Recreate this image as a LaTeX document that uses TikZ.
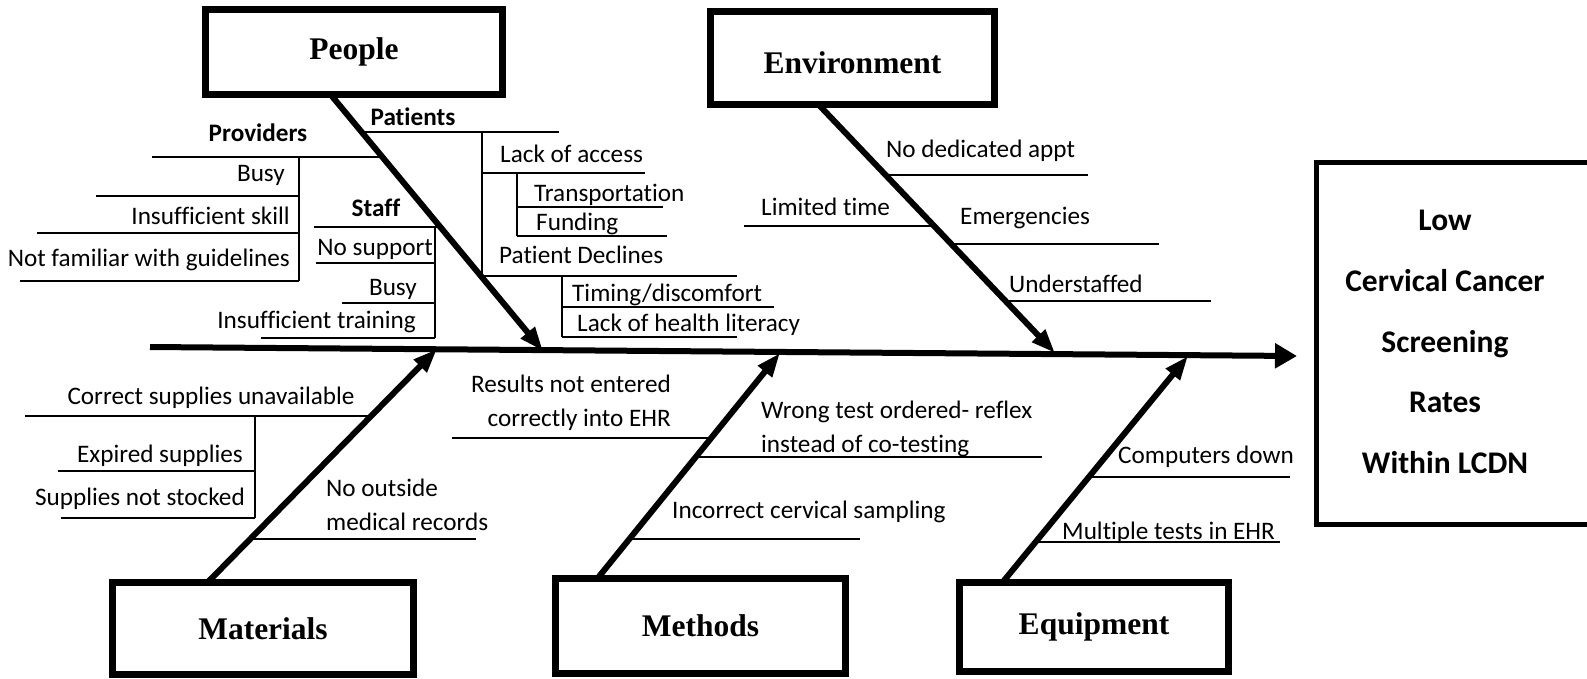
\documentclass[tikz,border=0pt]{standalone}
\usepackage{fontspec}
\setmainfont{Carlito}[Ligatures=NoCommon]
\newfontfamily\catfont{Liberation Serif}
\usetikzlibrary{arrows.meta}

\begin{document}
\begin{tikzpicture}[x=1pt, y=-1pt,
  cat/.style={draw, line width=7pt, font=\catfont\bfseries\fontsize{31.5}{36}\selectfont},
  bone/.style={line width=6pt, -{Triangle[length=24pt,width=17pt]}},
  cause/.style={inner sep=0pt, font=\fontsize{25.2}{34}\selectfont},
  sub/.style={inner sep=0pt, font=\bfseries\fontsize{25.2}{28}\selectfont},
  twig/.style={line width=1.8pt},
  sprig/.style={line width=1.2pt}]
\useasboundingbox (0,0) rectangle (1587,678);

% categories
\node (people) [cat, minimum width=297, minimum height=85] at (354,52) {People};
\node (environ) [cat, minimum width=284, minimum height=93, text height=31pt] at (852.5,58) {Environment};
\node (materials) [cat, minimum width=301, minimum height=92] at (263,628.5) {Materials};
\node (methods) [cat, minimum width=290, minimum height=95] at (700.5,626) {Methods};
\node (equip) [cat, minimum width=269, minimum height=89] at (1094,627) {Equipment};

% effect
\node (effect) [draw, line width=5pt, minimum width=305, minimum height=362, anchor=west] at (1314,343.5) {};
\node (effecttext) [align=center, font=\bfseries\fontsize{31.5}{60.7}\selectfont] at (1445,342)
  {Low\\Cervical Cancer\\Screening\\Rates\\Within LCDN};

% spine and bones
\coordinate (tail) at (150,347);
\coordinate (head) at (1297,356);
\draw[line width=6pt, -{Triangle[length=22pt,width=24pt]}] (tail) -- (head);

\coordinate (peopleroot) at (331,95);
\coordinate (peopletip) at (543,351);
\coordinate (environroot) at (818,104);
\coordinate (environtip) at (1055,353);
\coordinate (materialsroot) at (207,583);
\coordinate (materialstip) at (437,349);
\coordinate (methodsroot) at (597,579);
\coordinate (methodstip) at (780,353);
\coordinate (equiproot) at (1002,583);
\coordinate (equiptip) at (1188,356);
\draw[bone] (peopleroot) -- (peopletip);
\draw[bone] (environroot) -- (environtip);
\draw[bone] (materialsroot) -- (materialstip);
\draw[bone] (methodsroot) -- (methodstip);
\draw[bone] (equiproot) -- (equiptip);

% people: providers
\node (providers) [sub] at (258,133) {Providers};
\draw[twig] (152,157) -- (381,157);
\draw[sprig] (299,157) -- (299,281);
\node (provbusy) [cause, anchor=east] at (285,175) {Busy};
\draw[sprig] (96,196) -- (299,196);
\node (provskill) [cause, anchor=east] at (290,216) {Insufficient skill};
\draw[sprig] (37,233) -- (299,233);
\node (provguide) [cause, anchor=east] at (290,260) {Not familiar with guidelines};
\draw[sprig] (20,281) -- (299,281);

% people: staff
\node (staff) [sub] at (376,208) {Staff};
\draw[twig] (314,227) -- (440,227);
\draw[sprig] (435,227) -- (435,338);
\node (staffsupport) [cause, anchor=east] at (433,249) {No support};
\draw[sprig] (316,263) -- (435,263);
\node (staffbusy) [cause, anchor=east] at (417,289) {Busy};
\draw[sprig] (342,303) -- (435,303);
\node (stafftrain) [cause, anchor=east] at (416,322) {Insufficient training};
\draw[sprig] (261,338) -- (435,338);

% people: patients
\node (patients) [sub] at (413,117) {Patients};
\draw[twig] (361,132) -- (559,132);
\draw[sprig] (482,132) -- (482,276);
\node (access) [cause, anchor=west] at (500,154) {Lack of access};
\draw[sprig] (482,173) -- (645,173);
\draw[sprig] (517,173) -- (517,236);
\node (transport) [cause, anchor=west] at (534,195) {Transportation};
\draw[sprig] (517,207) -- (663,207);
\node (funding) [cause, anchor=west] at (536,224) {Funding};
\draw[sprig] (517,236) -- (667,236);
\node (declines) [cause, anchor=west] at (499,255) {Patient Declines};
\draw[sprig] (482,276) -- (737,276);
\draw[sprig] (562,276) -- (562,337);
\node (timing) [cause, anchor=west] at (572,295) {Timing/discomfort};
\draw[sprig] (562,307) -- (774,307);
\node (literacy) [cause, anchor=west] at (577,325) {Lack of health literacy};
\draw[sprig] (562,337) -- (737,337);

% environment
\node (appt) [cause, anchor=west] at (886,151) {No dedicated appt};
\draw[twig] (885,175) -- (1088,175);
\node (limited) [cause, anchor=west] at (761,207) {Limited time};
\draw[twig] (744,226) -- (934,226);
\node (emerg) [cause, anchor=west] at (960,218) {Emergencies};
\draw[twig] (951,244) -- (1159,244);
\node (understaff) [cause, anchor=west] at (1009,284) {Understaffed};
\draw[twig] (1006,301) -- (1211,301);

% materials
\node (correct) [cause] at (211,398) {Correct supplies unavailable};
\draw[twig] (25,416) -- (370,416);
\draw[sprig] (255,416) -- (255,518);
\node (expired) [cause, anchor=east] at (243,456) {Expired supplies};
\draw[sprig] (58,471) -- (255,471);
\node (stocked) [cause, anchor=east] at (245,499) {Supplies not stocked};
\draw[sprig] (61,518) -- (255,518);
\node (outside) [cause, anchor=west, align=left] at (326,505) {No outside\\medical records};
\draw[twig] (249,539) -- (476,539);

% methods
\node (entered) [cause, anchor=east, align=right] at (671,403) {Results not entered\\correctly into EHR};
\draw[twig] (452,438) -- (711,438);
\node (wrongtest) [cause, anchor=west, align=left] at (761,429) {Wrong test ordered- reflex\\instead of co-testing};
\draw[twig] (695,457) -- (1042,457);
\node (sampling) [cause, anchor=west] at (672,512) {Incorrect cervical sampling};
\draw[twig] (628,539) -- (860,539);

% equipment
\node (computers) [cause, anchor=west] at (1118,457) {Computers down};
\draw[twig] (1088,477) -- (1290,477);
\node (multiple) [cause, anchor=west] at (1062,533) {Multiple tests in EHR};
\draw[twig] (1034,542) -- (1280,542);

\end{tikzpicture}
\end{document}
